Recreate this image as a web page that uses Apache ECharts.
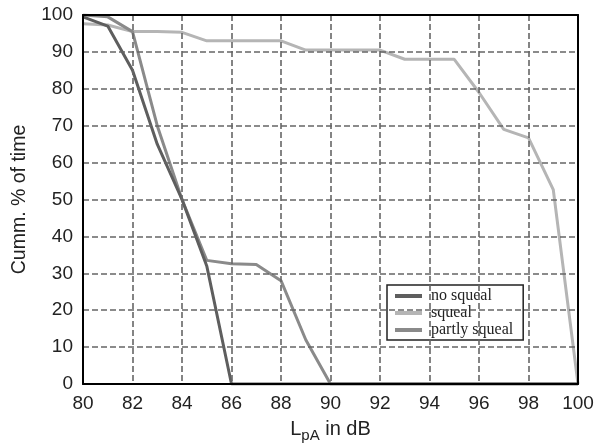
<!DOCTYPE html>
<html>
<head>
<meta charset="utf-8">
<script src="https://cdn.jsdelivr.net/npm/echarts@6/dist/echarts.min.js"></script>
<style>html,body{margin:0;padding:0;background:#fff}#c{width:597px;height:448px}</style>
</head>
<body>
<div id="c"></div>
<script>
var levels = [80, 81, 82, 83, 84, 85, 86, 87, 88, 89, 90, 91, 92, 93, 94, 95, 96, 97, 98, 99, 100];
var noSqueal     = [99.5, 97, 85, 65, 50, 32, 0, 0, 0, 0, 0, 0, 0, 0, 0, 0, 0, 0, 0, 0, 0];
var squeal       = [97.6, 97.3, 95.5, 95.5, 95.3, 93, 93, 93, 93, 90.5, 90.5, 90.5, 90.5, 88, 88, 88, 79, 69, 66.7, 52.7, 0];
var partlySqueal = [100, 99.5, 95.5, 70, 50, 33.5, 32.6, 32.4, 28, 12, 0, 0, 0, 0, 0, 0, 0, 0, 0, 0, 0];
var seriesNames = ['no squeal', 'squeal', 'partly squeal'];
var xTicks = [80, 82, 84, 86, 88, 90, 92, 94, 96, 98, 100];
var yTicks = [0, 10, 20, 30, 40, 50, 60, 70, 80, 90, 100];

function pairs(vals) { return levels.map(function (x, i) { return [x, vals[i]]; }); }

var colors = ['#5e5e5e', '#b5b5b5', '#8a8a8a'];
var chart = echarts.init(document.getElementById('c'));
var gridLine = { show: true, lineStyle: { color: '#666', type: [6, 3], width: 1.6 } };
var frameAxis = {
  axisLine: { show: true, onZero: false, lineStyle: { color: '#000', width: 2 } },
  axisTick: { show: false }, axisLabel: { show: false }, splitLine: { show: false }, z: 6
};
chart.setOption({
  animation: false,
  backgroundColor: '#fff',
  grid: { left: 83, right: 19, top: 15, bottom: 63 },
  legend: {
    data: seriesNames.map(function (n) { return { name: n, icon: 'rect' }; }),
    orient: 'vertical', left: 387, top: 285,
    width: 139,
    padding: [3, 6, 2, 8], itemGap: 1,
    itemWidth: 27, itemHeight: 4,
    backgroundColor: '#fff', borderColor: '#222', borderWidth: 1.5,
    formatter: function (n) { return '{t|' + n + '}'; },
    textStyle: {
      fontFamily: 'Liberation Serif', fontSize: 16, lineHeight: 16, color: '#222',
      rich: { t: { fontFamily: 'Liberation Serif', fontSize: 16, lineHeight: 16, color: '#222', padding: [0, 4, 0, 4] } }
    }
  },
  xAxis: [{
    type: 'value', min: 80, max: 100, interval: 2,
    axisLine: { show: true, onZero: false, lineStyle: { color: '#000', width: 2 } },
    axisTick: { show: false },
    splitLine: gridLine,
    axisLabel: {
      margin: 10, fontFamily: 'Liberation Sans', fontSize: 19, color: '#222',
      formatter: function (v) { return xTicks.indexOf(v) >= 0 ? String(v) : ''; }
    },
    name: '{m|L}{s|pA}{m| in dB}',
    nameLocation: 'middle', nameGap: 32,
    nameTextStyle: {
      rich: {
        m: { fontFamily: 'Liberation Sans', fontSize: 20, color: '#222' },
        s: { fontFamily: 'Liberation Sans', fontSize: 15, color: '#222', padding: [12, 0, 0, 0] }
      }
    },
    z: 5
  }, echarts.util.merge({ type: 'value', min: 80, max: 100, interval: 2, position: 'top' }, frameAxis, true)],
  yAxis: [{
    type: 'value', min: 0, max: 100, interval: 10,
    axisLine: { show: true, onZero: false, lineStyle: { color: '#000', width: 2 } },
    axisTick: { show: false },
    splitLine: gridLine,
    axisLabel: {
      margin: 10, fontFamily: 'Liberation Sans', fontSize: 19, color: '#222',
      formatter: function (v) { return yTicks.indexOf(v) >= 0 ? String(v) : ''; }
    },
    name: 'Cumm. % of time',
    nameLocation: 'middle', nameGap: 53,
    nameTextStyle: { fontFamily: 'Liberation Sans', fontSize: 19.5, color: '#222' },
    z: 5
  }, echarts.util.merge({ type: 'value', min: 0, max: 100, interval: 10, position: 'right' }, frameAxis, true)],
  series: [
    { name: seriesNames[0], type: 'line', data: pairs(noSqueal), symbol: 'none', color: colors[0], lineStyle: { width: 3, color: colors[0] }, z: 4 },
    { name: seriesNames[1], type: 'line', data: pairs(squeal), symbol: 'none', color: colors[1], lineStyle: { width: 3, color: colors[1] }, z: 3 },
    { name: seriesNames[2], type: 'line', data: pairs(partlySqueal), symbol: 'none', color: colors[2], lineStyle: { width: 3, color: colors[2] }, z: 3 }
  ]
});
</script>
</body>
</html>
